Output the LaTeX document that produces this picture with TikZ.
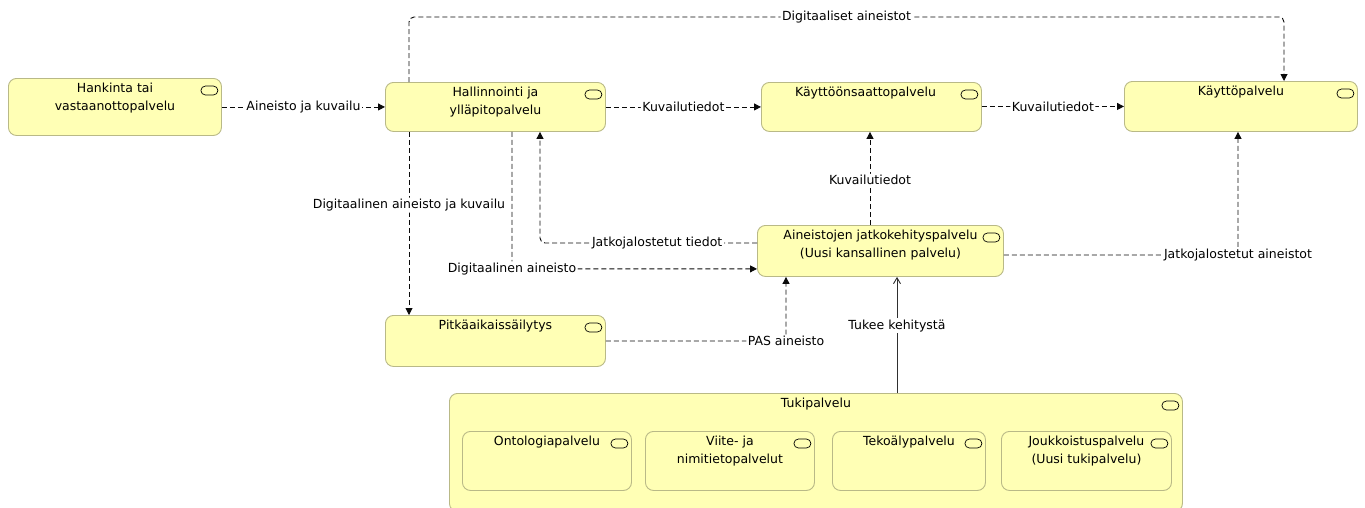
\documentclass[tikz,border=0pt]{standalone}
\usepackage{fontspec}
\setmainfont{DejaVu Sans}
\usetikzlibrary{arrows.meta}
\definecolor{boxfill}{RGB}{255,255,181}
\definecolor{boxline}{RGB}{185,185,135}
\definecolor{edgecol}{RGB}{10,10,10}
\tikzset{
  box/.style={draw=boxline, fill=boxfill, rounded corners=8pt, anchor=north west, inner sep=0pt, line width=0.9pt},
  boxtxt/.style={anchor=north, yshift=-5pt, align=center, inner sep=0pt, font=\fontsize{12.5}{17.5}\selectfont},
  elabel/.style={fill=white, inner sep=1.5pt, font=\fontsize{12.5}{15}\selectfont, text=black},
  flow/.style={draw=edgecol, line width=0.9pt, dash pattern=on 5pt off 3pt, -{Triangle[length=7pt,width=7pt]}, rounded corners=5pt},
  serve/.style={draw=edgecol!85, line width=0.9pt, -{Straight Barb[length=6pt,width=7pt]}},
  svc/.style={draw=black, line width=0.7pt, rounded corners=4.5pt}
}
\newcommand{\svcicon}[1]{\draw[svc] ([shift={(-21pt,-8pt)}]#1.north east) rectangle ++(17pt,-9pt);}
\begin{document}
\begin{tikzpicture}[x=1pt,y=-1pt]
\useasboundingbox (0,0) rectangle (1365,507);
% boxes
\node[box, minimum width=213pt, minimum height=57pt, label={[boxtxt]north:Hankinta tai\\vastaanottopalvelu}] (hank) at (8,78) {};
\node[box, minimum width=220pt, minimum height=49pt, label={[boxtxt]north:Hallinnointi ja\\ylläpitopalvelu}] (hall) at (385,82) {};
\node[box, minimum width=220pt, minimum height=49pt, label={[boxtxt, xshift=-6pt]north:Käyttöönsaattopalvelu}] (kayo) at (761,82) {};
\node[box, minimum width=233pt, minimum height=50pt, label={[boxtxt]north:Käyttöpalvelu}] (kayt) at (1124,81) {};
\node[box, minimum width=246pt, minimum height=51pt, label={[boxtxt]north:Aineistojen jatkokehityspalvelu\\(Uusi kansallinen palvelu)}] (aine) at (757,225) {};
\node[box, minimum width=220pt, minimum height=51pt, label={[boxtxt]north:Pitkäaikaissäilytys}] (pit) at (385,315) {};
\node[box, minimum width=733pt, minimum height=118pt, label={[boxtxt]north:Tukipalvelu}] (tuki) at (449,393) {};
\node[box, minimum width=169pt, minimum height=59pt, label={[boxtxt]north:Ontologiapalvelu}] (onto) at (462,431) {};
\node[box, minimum width=169pt, minimum height=59pt, label={[boxtxt]north:Viite- ja\\nimitietopalvelut}] (viite) at (645,431) {};
\node[box, minimum width=153pt, minimum height=59pt, label={[boxtxt]north:Tekoälypalvelu}] (teko) at (832,431) {};
\node[box, minimum width=170pt, minimum height=59pt, label={[boxtxt]north:Joukkoistuspalvelu\\(Uusi tukipalvelu)}] (jouk) at (1001,431) {};
% icons
\svcicon{hank}\svcicon{hall}\svcicon{kayo}\svcicon{kayt}\svcicon{aine}\svcicon{pit}
\svcicon{tuki}\svcicon{onto}\svcicon{viite}\svcicon{teko}\svcicon{jouk}
% connectors
\draw[flow] (hank) -- node[elabel]{Aineisto ja kuvailu} (hall);
\draw[flow] (hall) -- node[elabel]{Kuvailutiedot} (kayo);
\draw[flow] (kayo.east |- kayt.west) -- node[elabel]{Kuvailutiedot} (kayt.west);
\draw[flow] ([xshift=24pt]hall.north west) -- ++(0,-65) -| node[elabel, pos=0.25]{Digitaaliset aineistot} ([xshift=160pt]kayt.north west);
\draw[flow] ([xshift=24pt]hall.south west) -- node[elabel, pos=0.4]{Digitaalinen aineisto ja kuvailu} ([xshift=24pt]pit.north west);
\draw[flow] ([xshift=127pt]hall.south west) |- node[elabel, pos=0.5]{Digitaalinen aineisto} ([yshift=8pt]aine.south west);
\draw[flow] ([yshift=-18pt]aine.north west) -| node[elabel, pos=0.23]{Jatkojalostetut tiedot} ([xshift=155pt]hall.south west);
\draw[flow] ([xshift=113pt]aine.north west) -- node[elabel, pos=0.48]{Kuvailutiedot} ([xshift=113pt]aine.north west |- kayo.south);
\draw[flow] ([yshift=-30pt]aine.north east) -| node[elabel, pos=0.5]{Jatkojalostetut aineistot} ([xshift=114pt]kayt.south west);
\draw[flow] (pit.east) -| node[elabel, pos=0.5]{PAS aineisto} ([xshift=29pt]aine.south west);
\draw[serve] ([xshift=448pt]tuki.north west) -- node[elabel, pos=0.58]{Tukee kehitystä} ([xshift=140pt]aine.south west);
\end{tikzpicture}
\end{document}
